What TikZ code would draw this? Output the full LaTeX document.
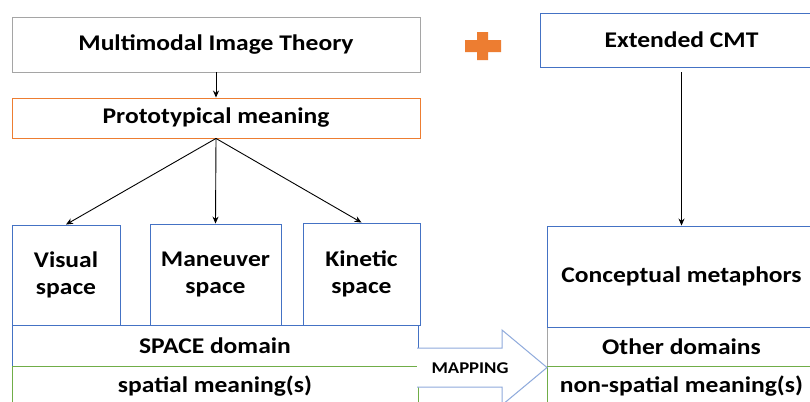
\documentclass[tikz,border=0pt]{standalone}
\usepackage{fontspec}
\setmainfont{Carlito}[FakeStretch=1.14]
\usetikzlibrary{arrows.meta}
\definecolor{cgray}{HTML}{A5A5A5}
\definecolor{corange}{HTML}{ED7D31}
\definecolor{cblue}{HTML}{4472C4}
\definecolor{cgreen}{HTML}{70AD47}
\definecolor{clight}{HTML}{8FAADC}
\begin{document}
\begin{tikzpicture}[x=1bp,y=-1bp,
  box/.style={draw, line width=0.9bp, inner sep=0pt, align=center,
    font=\bfseries\fontsize{22.5}{27}\selectfont},
  arr/.style={draw=black, line width=0.9bp, -{Stealth[length=7bp,width=6bp]}},
  maplabel/.style={inner sep=0pt, font=\bfseries\fontsize{16.5}{19}\selectfont}]
\useasboundingbox (0,0) rectangle (810,401);
\fill[white] (0,0) rectangle (810,401);
% top row
\node[box, draw=cgray, minimum width=408bp, minimum height=55bp] (mit) at (216,44.5) {Multimodal Image Theory};
\node[box, draw=corange, minimum width=408bp, minimum height=40bp] (proto) at (216,118) {Prototypical meaning};
\node[box, draw=cblue, minimum width=283bp, minimum height=54bp] (ext) at (681.5,40) {Extended CMT};
% plus sign
\fill[corange] (465,40) -- (477,40) -- (477,32) -- (488,32) -- (488,40) -- (501,40)
  -- (501,52) -- (488,52) -- (488,60) -- (477,60) -- (477,52) -- (465,52) -- cycle;
% space boxes
\node[box, draw=cblue, minimum width=108bp, minimum height=100bp] (vis) at (66,275) {Visual\\space};
\node[box, draw=cblue, minimum width=131bp, minimum height=101bp] (man) at (215.5,274.5) {Maneuver\\space};
\node[box, draw=cblue, minimum width=117bp, minimum height=102bp] (kin) at (361.5,274) {Kinetic\\space};
\node[box, draw=cblue, minimum width=406bp, minimum height=41bp] (spd) at (215,345.5) {SPACE domain};
\node[box, draw=cgreen, minimum width=406bp, minimum height=39bp, anchor=north] (spm) at (215,366) {spatial meaning(s)};
% right column
\node[box, draw=cgray, minimum width=269bp, minimum height=39bp] (oth) at (681.5,346.5) {Other domains};
\node[box, draw=cblue, minimum width=269bp, minimum height=101bp] (conc) at (681.5,276.5) {Conceptual metaphors};
\node[box, draw=cgreen, minimum width=269bp, minimum height=39bp, anchor=north] (nsp) at (681.5,366) {non-spatial meaning(s)};
% mapping arrow
\coordinate (mtail) at (417,367.5);
\coordinate (mtip) at (547,367.5);
\filldraw[fill=white, draw=clight, line width=1bp]
  (mtail |- 0,348) -- (502,348) -- (502,330) -- (mtip) -- (502,405) -- (502,387) -- (mtail |- 0,387);
\node[maplabel] (map) at (470,368) {MAPPING};
% connectors
\draw[arr] (mit.south) -- (proto.north);
\draw[arr] (proto.south) -- (vis.north);
\draw[arr] (proto.south) -- (man.north);
\draw[arr] (proto.south) -- (kin.north);
\draw[arr, shorten <=5bp] (ext.south) -- (conc.north);
\end{tikzpicture}
\end{document}
